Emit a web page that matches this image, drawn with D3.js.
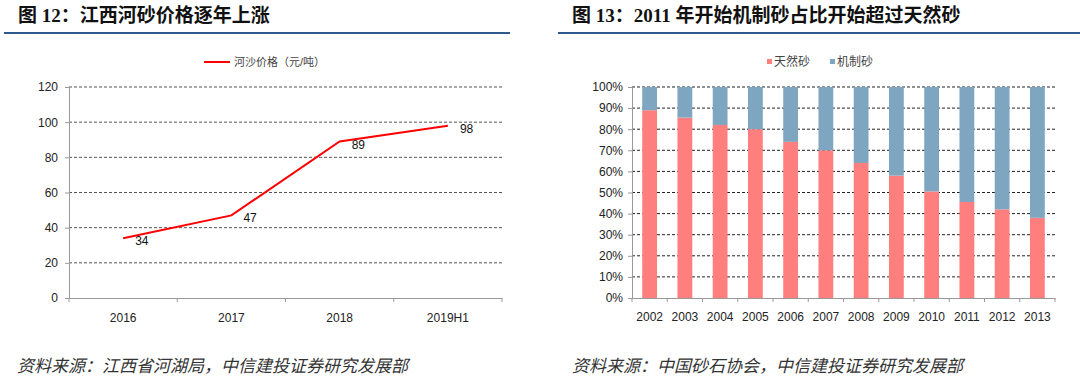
<!DOCTYPE html>
<html>
<head>
<meta charset="utf-8">
<script src="https://cdn.jsdelivr.net/npm/d3@7"></script>
<style>
  body { margin: 0; background: #fff; }
  svg text { font-family: Arial, "Liberation Sans", "Noto Sans CJK SC", sans-serif; }
</style>
</head>
<body>
<div id="chart"></div>
<script>
// 圖 12 數據
const priceYears = ["2016", "2017", "2018", "2019H1"];
const priceValues = [34, 47, 89, 98];
const priceTicks = [0, 20, 40, 60, 80, 100, 120];

// 圖 13 數據
const sandYears = ["2002", "2003", "2004", "2005", "2006", "2007", "2008", "2009", "2010", "2011", "2012", "2013"];
const naturalShare = [0.89, 0.855, 0.82, 0.80, 0.74, 0.70, 0.64, 0.58, 0.505, 0.455, 0.42, 0.38];
const machineShare = naturalShare.map(d => 1 - d);
const shareTicks = [0, 0.1, 0.2, 0.3, 0.4, 0.5, 0.6, 0.7, 0.8, 0.9, 1];

const W = 1080, H = 383;
const svg = d3.select("#chart").append("svg")
    .attr("width", W).attr("height", H);

const cjk = "'Liberation Serif', 'Noto Sans CJK SC', serif";

// 標題和藍線
function header(x, text, x1, x2) {
    svg.append("text")
        .attr("x", x).attr("y", 22)
        .style("font-family", cjk)
        .style("font-weight", "bold")
        .style("font-size", "19px")
        .attr("fill", "#111")
        .text(text);
    svg.append("line")
        .attr("x1", x1).attr("x2", x2)
        .attr("y1", 33).attr("y2", 33)
        .attr("stroke", "#2a5b8c").attr("stroke-width", 2);
}
header(18, "图 12：江西河砂价格逐年上涨", 4, 510);
header(572, "图 13：2011 年开始机制砂占比开始超过天然砂", 558, 1080);

// 資料來源
function source(x, text) {
    svg.append("text")
        .attr("x", x).attr("y", 372)
        .style("font-family", "'Noto Sans CJK SC', sans-serif")
        .style("font-style", "italic")
        .style("font-size", "17px")
        .attr("fill", "#333")
        .text(text);
}
source(17, "资料来源：江西省河湖局，中信建投证券研究发展部");
source(572, "资料来源：中国砂石协会，中信建投证券研究发展部");

// ---------- 左圖：折線 ----------
{
    const left = 69, right = 502, top = 87, bottom = 298;
    const x = d3.scaleBand().domain(priceYears).range([left, right]);
    const y = d3.scaleLinear().domain([0, 120]).range([bottom, top]);

    // 網格線
    svg.append("g").selectAll("line")
        .data(priceTicks.filter(d => d > 0))
        .enter().append("line")
        .attr("x1", left).attr("x2", right)
        .attr("y1", d => y(d)).attr("y2", d => y(d))
        .attr("stroke", "#555").attr("stroke-width", 1)
        .attr("stroke-dasharray", "3 2");

    // Y 軸
    const yAxis = svg.append("g")
        .attr("transform", `translate(${left},0)`)
        .call(d3.axisLeft(y).tickValues(priceTicks).tickSize(4).tickPadding(7));
    yAxis.select(".domain").attr("stroke", "#999");
    yAxis.selectAll(".tick line").attr("stroke", "#999");
    yAxis.selectAll("text").style("font-size", "12px").attr("fill", "#222");

    // X 軸
    const xAxis = svg.append("g")
        .attr("transform", `translate(0,${bottom})`)
        .call(d3.axisBottom(x).tickSize(0).tickPadding(15));
    xAxis.select(".domain").attr("stroke", "#999");
    xAxis.selectAll("text").style("font-size", "12px").attr("fill", "#222");
    svg.append("g").selectAll("line")
        .data(d3.range(priceYears.length + 1))
        .enter().append("line")
        .attr("x1", i => left + i * x.step()).attr("x2", i => left + i * x.step())
        .attr("y1", bottom).attr("y2", bottom + 4)
        .attr("stroke", "#999");

    const cx = d => x(d) + x.bandwidth() / 2;

    // 折線
    svg.append("path")
        .datum(priceValues)
        .attr("fill", "none")
        .attr("stroke", "#ff0000")
        .attr("stroke-width", 2)
        .attr("d", d3.line()
            .x((d, i) => cx(priceYears[i]))
            .y(d => y(d)));

    // 數據標籤
    svg.append("g").selectAll("text")
        .data(priceValues)
        .enter().append("text")
        .attr("x", (d, i) => cx(priceYears[i]) + 12)
        .attr("y", d => y(d) + 7)
        .style("font-size", "12px")
        .attr("fill", "#111")
        .text(d => d);

    // 圖例
    svg.append("line")
        .attr("x1", 204).attr("x2", 230)
        .attr("y1", 62).attr("y2", 62)
        .attr("stroke", "#ff0000").attr("stroke-width", 2);
    svg.append("text")
        .attr("x", 234).attr("y", 66)
        .style("font-size", "11px")
        .attr("fill", "#444")
        .text("河沙价格（元/吨）");
}

// ---------- 右圖：堆疊柱 ----------
{
    const left = 632, right = 1055, top = 87, bottom = 298;
    const x = d3.scaleBand().domain(sandYears).range([left, right]).paddingInner(0.58).paddingOuter(0.29);
    const xb = d3.scaleBand().domain(sandYears).range([left, right]);
    const y = d3.scaleLinear().domain([0, 1]).range([bottom, top]);
    const colors = { natural: "#ff7f7f", machine: "#7fa6c0" };

    svg.append("g").selectAll("line")
        .data(shareTicks.filter(d => d > 0))
        .enter().append("line")
        .attr("x1", left).attr("x2", right)
        .attr("y1", d => y(d)).attr("y2", d => y(d))
        .attr("stroke", "#222").attr("stroke-width", 1)
        .attr("stroke-dasharray", "3 2");

    // 天然砂
    svg.append("g").selectAll("rect")
        .data(naturalShare)
        .enter().append("rect")
        .attr("x", (d, i) => x(sandYears[i]))
        .attr("width", x.bandwidth())
        .attr("y", d => y(d))
        .attr("height", d => bottom - y(d))
        .attr("fill", colors.natural);

    // 機制砂
    svg.append("g").selectAll("rect")
        .data(machineShare)
        .enter().append("rect")
        .attr("x", (d, i) => x(sandYears[i]))
        .attr("width", x.bandwidth())
        .attr("y", (d, i) => y(naturalShare[i] + d))
        .attr("height", d => y(0) - y(d))
        .attr("fill", colors.machine);

    const yAxis = svg.append("g")
        .attr("transform", `translate(${left},0)`)
        .call(d3.axisLeft(y).tickValues(shareTicks).tickFormat(d3.format(".0%")).tickSize(4).tickPadding(5));
    yAxis.select(".domain").attr("stroke", "#999");
    yAxis.selectAll(".tick line").attr("stroke", "#999");
    yAxis.selectAll("text").style("font-size", "12px").attr("fill", "#222");

    const xAxis = svg.append("g")
        .attr("transform", `translate(0,${bottom})`)
        .call(d3.axisBottom(xb).tickSize(0).tickPadding(14));
    xAxis.select(".domain").attr("stroke", "#999");
    xAxis.selectAll("text").style("font-size", "12px").attr("fill", "#222");
    svg.append("g").selectAll("line")
        .data(d3.range(sandYears.length + 1))
        .enter().append("line")
        .attr("x1", i => left + i * xb.step()).attr("x2", i => left + i * xb.step())
        .attr("y1", bottom).attr("y2", bottom + 4)
        .attr("stroke", "#999");

    // 圖例
    const legend = [["天然砂", colors.natural, 767], ["机制砂", colors.machine, 830]];
    legend.forEach(([name, c, lx]) => {
        svg.append("rect")
            .attr("x", lx).attr("y", 59).attr("width", 5).attr("height", 5)
            .attr("fill", c);
        svg.append("text")
            .attr("x", lx + 7).attr("y", 66)
            .style("font-size", "12px")
            .attr("fill", "#444")
            .text(name);
    });
}
</script>
</body>
</html>
